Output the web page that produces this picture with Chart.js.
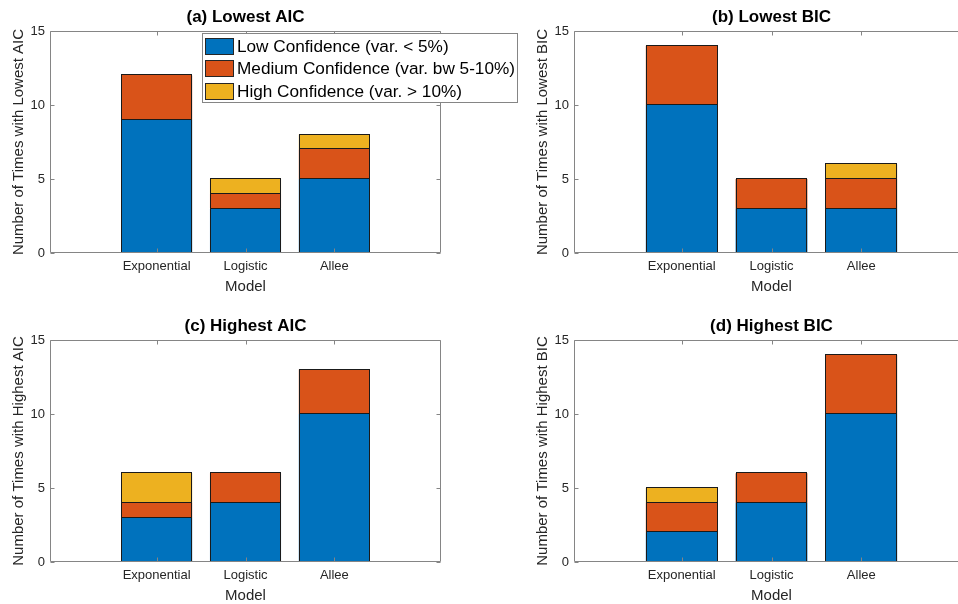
<!DOCTYPE html>
<html>
<head>
<meta charset="utf-8">
<script src="https://cdn.jsdelivr.net/npm/chart.js@4.4.1/dist/chart.umd.min.js"></script>
<style>
html, body { margin: 0; padding: 0; background: #fff; }
#wrap { position: relative; width: 958px; height: 604px; overflow: hidden; background: #fff; }
#wrap canvas { position: absolute; }
</style>
</head>
<body>
<div id="wrap">
  <canvas id="cB" width="500" height="300" style="left:479px;top:0px"></canvas>
  <canvas id="cD" width="500" height="300" style="left:479px;top:309px"></canvas>
  <canvas id="cC" width="479" height="300" style="left:0px;top:309px"></canvas>
  <canvas id="cA" width="530" height="300" style="left:0px;top:0px"></canvas>
</div>
<script>
// ---------------- data ----------------
const categories = ['Exponential', 'Logistic', 'Allee'];
const seriesNames = ['Low Confidence (var. < 5%)', 'Medium Confidence (var. bw 5-10%)', 'High Confidence (var. > 10%)'];
const yTicks = [0, 5, 10, 15];
const xAxisTitle = 'Model';

const lowestAIC_low  = [9, 3, 5];
const lowestAIC_med  = [3, 1, 2];
const lowestAIC_high = [0, 1, 1];

const lowestBIC_low  = [10, 3, 3];
const lowestBIC_med  = [4, 2, 2];
const lowestBIC_high = [0, 0, 1];

const highestAIC_low  = [3, 4, 10];
const highestAIC_med  = [1, 2, 3];
const highestAIC_high = [2, 0, 0];

const highestBIC_low  = [2, 4, 10];
const highestBIC_med  = [2, 2, 4];
const highestBIC_high = [1, 0, 0];

const panelTitles = ['(a) Lowest AIC', '(b) Lowest BIC', '(c) Highest AIC', '(d) Highest BIC'];
const yAxisTitles = ['Number of Times with Lowest AIC', 'Number of Times with Lowest BIC',
                     'Number of Times with Highest AIC', 'Number of Times with Highest BIC'];

// ---------------- style ----------------
const FONT = '"Liberation Sans", Arial, Helvetica, sans-serif';
const seriesColors = ['#0072BD', '#D95319', '#EDB120'];
const TEXT = '#262626';
const AXIS = '#858585';
const EDGE = '#1a1a1a';

Chart.defaults.font.family = FONT;
Chart.defaults.color = TEXT;

const matlabAxes = {
  id: 'matlabAxes',
  afterDatasetsDraw(chart, args, o) {
    const { ctx, chartArea: a, scales: { x, y } } = chart;
    ctx.save();
    // pixel-snapped bar faces with thin dark edges (MATLAB EdgeColor)
    ctx.lineWidth = 1;
    chart.data.datasets.forEach((ds, di) => {
      const meta = chart.getDatasetMeta(di);
      meta.data.forEach(el => {
        const p = el.getProps(['x', 'y', 'base', 'width'], true);
        if (Math.abs(p.base - p.y) < 0.5) return;
        const li = Math.round(p.x - p.width / 2);
        const ri = Math.round(p.x + p.width / 2);
        const ti = Math.round(Math.min(p.y, p.base));
        const bi = Math.round(Math.max(p.y, p.base));
        ctx.fillStyle = ds.backgroundColor;
        ctx.fillRect(li, ti, ri - li, bi - ti);
        ctx.strokeStyle = EDGE;
        ctx.strokeRect(li + 0.5, ti - 0.5, ri - li - 1, bi - ti);
      });
    });
    const L = Math.round(a.left) + 0.5, R = Math.round(a.right) - 0.5;
    const T = Math.round(a.top) + 0.5, B = Math.round(a.bottom) - 0.5;
    ctx.strokeStyle = AXIS;
    ctx.beginPath();
    ctx.rect(L, T, R - L, B - T);
    y.ticks.forEach(t => {
      const py = Math.round(y.getPixelForValue(t.value)) + 0.5;
      ctx.moveTo(L, py); ctx.lineTo(L + 4, py);
      ctx.moveTo(R, py); ctx.lineTo(R - 4, py);
    });
    x.ticks.forEach(t => {
      const px = Math.round(x.getPixelForValue(t.value)) + 0.5;
      ctx.moveTo(px, B); ctx.lineTo(px, B - 4);
      ctx.moveTo(px, T); ctx.lineTo(px, T + 4);
    });
    ctx.stroke();
    // panel title
    ctx.fillStyle = '#000';
    ctx.font = 'bold 17px ' + FONT;
    ctx.textAlign = 'center';
    ctx.textBaseline = 'middle';
    ctx.fillText(o.title, (a.left + a.right) / 2, o.titleY);
    ctx.restore();
  }
};

const boxLegend = {
  id: 'boxLegend',
  afterDraw(chart, args, o) {
    if (!o.show) return;
    const ctx = chart.ctx;
    ctx.save();
    ctx.fillStyle = '#fff';
    ctx.fillRect(o.x, o.y, o.w, o.h);
    ctx.strokeStyle = AXIS;
    ctx.lineWidth = 1;
    ctx.strokeRect(o.x + 0.5, o.y + 0.5, o.w, o.h);
    ctx.font = o.fontSize + 'px ' + FONT;
    ctx.textAlign = 'left';
    ctx.textBaseline = 'middle';
    chart.data.datasets.forEach((ds, i) => {
      const cy = o.y + o.firstRow + i * o.rowStep;
      const sy = Math.round(cy - o.swH / 2);
      ctx.fillStyle = ds.backgroundColor;
      ctx.fillRect(o.x + o.swX, sy, o.swW, o.swH);
      ctx.strokeStyle = '#262626';
      ctx.strokeRect(o.x + o.swX + 0.5, sy + 0.5, o.swW - 1, o.swH - 1);
      ctx.fillStyle = '#000';
      ctx.fillText(ds.label, o.x + o.textX, cy + 1);
    });
    ctx.restore();
  }
};

function makePanel(id, low, med, high, idx, geo) {
  const series = [low, med, high];
  const datasets = series.map((vals, s) => ({
    label: seriesNames[s],
    data: vals.map((v, i) => ({ x: i + 1, y: v })),
    backgroundColor: seriesColors[s],
    borderWidth: 0,
    inflateAmount: 0,
    categoryPercentage: 0.8,
    barPercentage: 1.0
  }));
  return new Chart(document.getElementById(id), {
    type: 'bar',
    data: { datasets },
    plugins: [matlabAxes, boxLegend],
    options: {
      responsive: false,
      animation: false,
      events: [],
      layout: { padding: { top: 31, left: geo.padLeft, right: geo.padRight, bottom: 0 } },
      plugins: {
        legend: { display: false },
        tooltip: { enabled: false },
        title: { display: false },
        matlabAxes: { title: panelTitles[idx], titleY: 17 },
        boxLegend: geo.legend ? Object.assign({ show: true }, geo.legend) : { show: false }
      },
      scales: {
        x: {
          type: 'linear',
          stacked: true,
          min: -0.2,
          max: 4.2,
          offset: false,
          afterBuildTicks: s => { s.ticks = categories.map((c, i) => ({ value: i + 1 })); },
          grid: { display: false, drawTicks: false },
          border: { display: false },
          ticks: {
            padding: 6, autoSkip: false, maxRotation: 0, minRotation: 0,
            font: { size: 13 }, color: TEXT,
            callback: v => categories[v - 1]
          },
          title: { display: true, text: xAxisTitle, font: { size: 15 }, color: TEXT, padding: { top: 0, bottom: 4 } },
          afterFit: s => { s.height = 47; }
        },
        y: {
          type: 'linear',
          stacked: true,
          min: 0,
          max: 15,
          afterBuildTicks: s => { s.ticks = yTicks.map(v => ({ value: v })); },
          grid: { display: false, drawTicks: false },
          border: { display: false },
          ticks: { padding: 5, font: { size: 13 }, color: TEXT },
          title: { display: true, text: yAxisTitles[idx], font: { size: 15 }, color: TEXT, padding: { top: 10, bottom: 0 } },
          afterFit: s => { s.width = 50; }
        }
      }
    }
  });
}

const legendGeo = { x: 202, y: 33, w: 315, h: 69, firstRow: 13, rowStep: 22.6, swX: 3, swW: 29, swH: 17, textX: 35, fontSize: 17.2 };

makePanel('cA', lowestAIC_low, lowestAIC_med, lowestAIC_high, 0, { padLeft: 0, padRight: 89, legend: legendGeo });
makePanel('cB', lowestBIC_low, lowestBIC_med, lowestBIC_high, 1, { padLeft: 45, padRight: 10 });
makePanel('cC', highestAIC_low, highestAIC_med, highestAIC_high, 2, { padLeft: 0, padRight: 38 });
makePanel('cD', highestBIC_low, highestBIC_med, highestBIC_high, 3, { padLeft: 45, padRight: 10 });
</script>
</body>
</html>
